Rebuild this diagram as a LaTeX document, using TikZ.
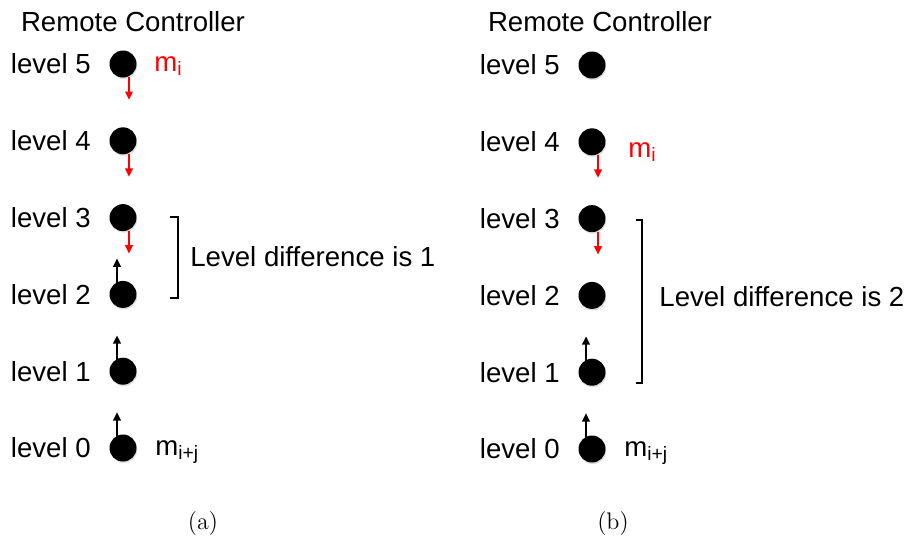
\documentclass[tikz,border=0pt]{standalone}
\usepackage{fontspec}
\setsansfont{Liberation Sans}
\usetikzlibrary{arrows.meta, positioning, shadows}

\begin{document}
\begin{tikzpicture}[
    x=0.5pt, y=-0.5pt,
    node distance=24.5pt and 9pt,
    dot/.style={circle, fill=black, minimum size=13.5pt, inner sep=0pt,
                drop shadow={shadow xshift=0.4pt, shadow yshift=-0.8pt, opacity=0.25}},
    lvl/.style={font=\sffamily\fontsize{13.8}{16}\selectfont, inner sep=0pt},
    msg/.style={lvl, text=red},
    captext/.style={font=\fontsize{12}{14}\selectfont, inner sep=0pt},
    downarr/.style={-{Triangle[length=4.2pt, width=3.8pt]}, line width=1pt, draw=red},
    uparr/.style={-{Triangle[length=4.2pt, width=3.8pt]}, line width=1pt, draw=black},
    brk/.style={line width=1pt, draw=black}
]
\useasboundingbox (0,0) rectangle (905,538);

% (a)
\node[lvl] (titlea) at (133,22) {Remote Controller};
\node[dot] (a5) at (123,64) {};
\node[dot, below=of a5] (a4) {};
\node[dot, below=of a4] (a3) {};
\node[dot, below=of a3] (a2) {};
\node[dot, below=of a2] (a1) {};
\node[dot, below=of a1] (a0) {};
\node[lvl, left=of a5] (la5) {level 5};
\node[lvl, left=of a4] (la4) {level 4};
\node[lvl, left=of a3] (la3) {level 3};
\node[lvl, left=of a2] (la2) {level 2};
\node[lvl, left=of a1] (la1) {level 1};
\node[lvl, left=of a0] (la0) {level 0};
\node[msg, right=8.5pt of a5, yshift=-1pt] (mia) {m\textsubscript{i}};
\node[lvl, right=9pt of a0, yshift=-2pt] (mja) {m\textsubscript{i+j}};

\draw[downarr] ([xshift=3pt, yshift=0.5pt]a5.south) -- ++(0pt,-11.5pt);
\draw[downarr] ([xshift=3pt, yshift=0.5pt]a4.south) -- ++(0pt,-11.5pt);
\draw[downarr] ([xshift=3pt, yshift=0.5pt]a3.south) -- ++(0pt,-11.5pt);
\draw[uparr] ([xshift=-3pt, yshift=-1.5pt]a2.north) -- ++(0pt,12.5pt);
\draw[uparr] ([xshift=-3pt, yshift=-1.5pt]a1.north) -- ++(0pt,12.5pt);
\draw[uparr] ([xshift=-3pt, yshift=-1.5pt]a0.north) -- ++(0pt,12.5pt);

\draw[brk] (170,217) -- (178,217) -- (178,298) -- (170,298);
\node[lvl, anchor=west] (diffa) at (190,257) {Level difference is 1};

% (b)
\node[lvl] (titleb) at (600,22) {Remote Controller};
\node[dot] (b5) at (592,65) {};
\node[dot, below=of b5] (b4) {};
\node[dot, below=of b4] (b3) {};
\node[dot, below=of b3] (b2) {};
\node[dot, below=of b2] (b1) {};
\node[dot, below=of b1] (b0) {};
\node[lvl, left=of b5] (lb5) {level 5};
\node[lvl, left=of b4] (lb4) {level 4};
\node[lvl, left=of b3] (lb3) {level 3};
\node[lvl, left=of b2] (lb2) {level 2};
\node[lvl, left=of b1] (lb1) {level 1};
\node[lvl, left=of b0] (lb0) {level 0};
\node[msg, right=11pt of b4, yshift=-5pt] (mib) {m\textsubscript{i}};
\node[lvl, right=9pt of b0, yshift=-2pt] (mjb) {m\textsubscript{i+j}};

\draw[downarr] ([xshift=3pt, yshift=0.5pt]b4.south) -- ++(0pt,-11.5pt);
\draw[downarr] ([xshift=3pt, yshift=0.5pt]b3.south) -- ++(0pt,-11.5pt);
\draw[uparr] ([xshift=-3pt, yshift=-1.5pt]b1.north) -- ++(0pt,12.5pt);
\draw[uparr] ([xshift=-3pt, yshift=-1.5pt]b0.north) -- ++(0pt,12.5pt);

\draw[brk] (636,220) -- (642,220) -- (642,383) -- (636,383);
\node[lvl, anchor=west] (diffb) at (659,297) {Level difference is 2};

% captions
\node[captext] (capa) at (203,523) {(a)};
\node[captext] (capb) at (613,523) {(b)};
\end{tikzpicture}
\end{document}
